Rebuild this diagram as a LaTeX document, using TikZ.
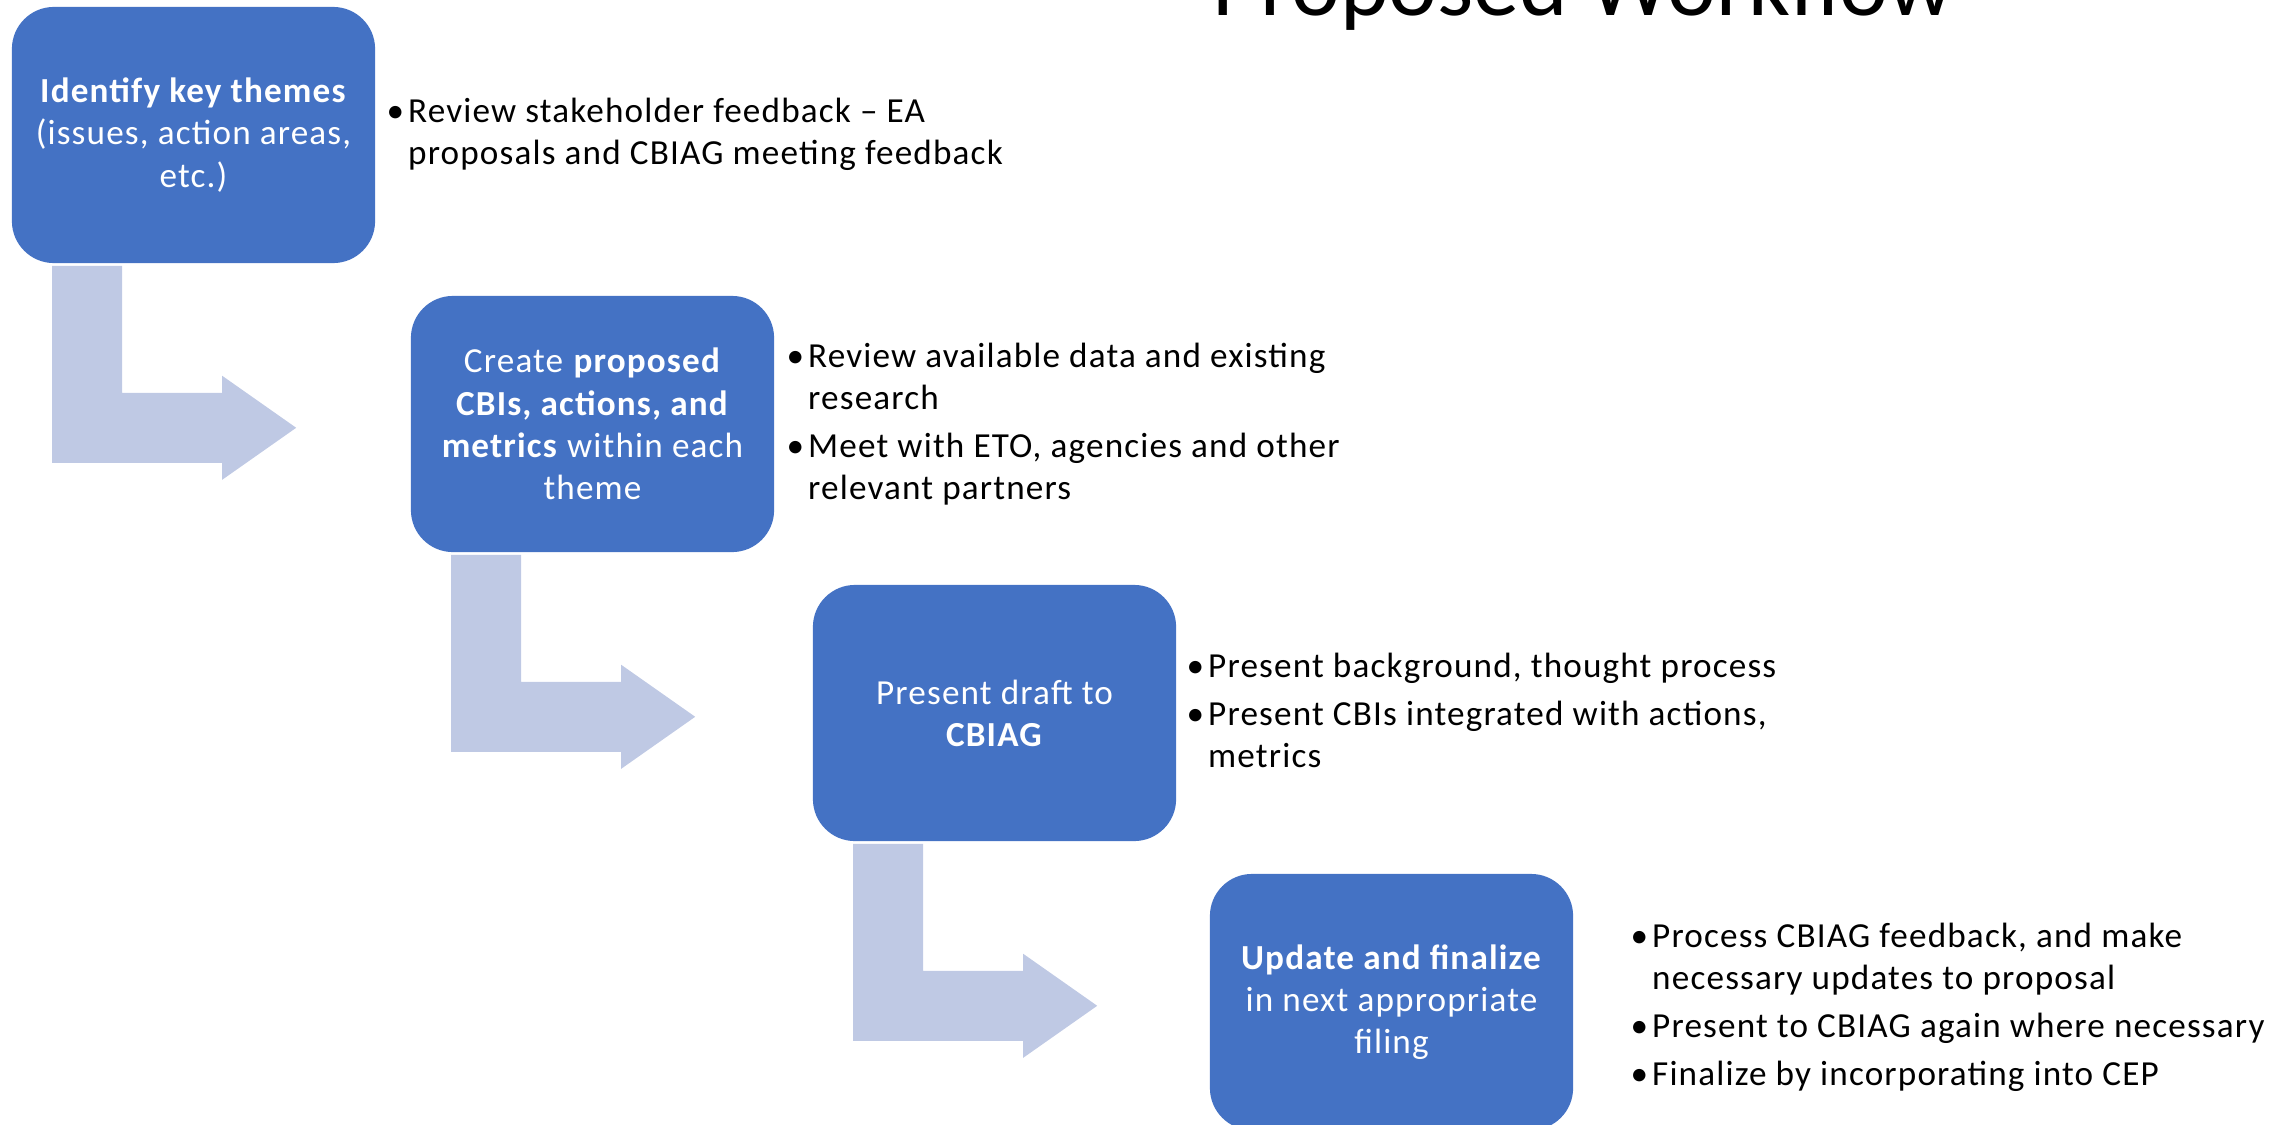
\documentclass[tikz,border=0pt]{standalone}
\usepackage{fontspec}
\setmainfont{Carlito}[LetterSpace=3.3]
\newfontfamily\titlefam{Carlito}
\usetikzlibrary{calc}

\definecolor{boxblue}{RGB}{68,114,196}
\definecolor{arrowgrey}{RGB}{191,201,228}

\newcommand{\boxfont}{\fontsize{10pt}{12pt}\selectfont}
\newcommand{\titlefont}{\titlefam\fontsize{26.3pt}{30pt}\selectfont}

\tikzset{
  stepbox/.style={fill=boxblue, rounded corners=0.42cm, minimum width=3.63cm,
    minimum height=2.56cm, inner sep=0pt, text=white, align=center, font=\boxfont},
  notes/.style={anchor=base west, inner sep=0pt, font=\boxfont},
  arrowfill/.style={fill=arrowgrey},
}

% bent arrow hanging below a step box
\newcommand{\bentarrow}[1]{%
  \fill[arrowfill] ($(#1.south west)+(41,2)$) -- ++(70,0) -- ++(0,127) -- ++(100,0)
    -- ++(0,-17) -- ++(74,52) -- ++(-74,52) -- ++(0,-17) -- ++(-170,0) -- cycle;%
}

\begin{document}
\begin{tikzpicture}[x=0.01cm,y=-0.01cm]
                \useasboundingbox (0,0) rectangle (2295,1124);
                \clip (0,0) rectangle (2295,1124);

                % Title, cut by the top edge
                \node [anchor=base west, inner sep=0pt, font=\titlefont] (title) at (1212,15) {Proposed Workflow};

                % Drawing step boxes
                \node [stepbox] (s1) at (193.5,135) {\textbf{Identify key themes}\\(issues, action areas,\\etc.)};
                \node [stepbox] (s2) at (592.5,424) {Create \textbf{proposed}\\\textbf{CBIs, actions, and}\\\textbf{metrics} within each\\theme};
                \node [stepbox] (s3) at (994.5,713) {Present draft to\\\textbf{CBIAG}};
                \node [stepbox] (s4) at (1391.5,1002) {\textbf{Update and finalize}\\in next appropriate\\filing};

                % Drawing bent arrows between the boxes
                \bentarrow{s1}
                \bentarrow{s2}
                \bentarrow{s3}

                % Bullet notes beside each box
                \node [notes] (n1) at (386,122) {\begin{tabular}[t]{@{}p{0.215cm}@{}l@{}}
                  \textbullet & Review stakeholder feedback -- EA\\
                              & proposals and CBIAG meeting feedback
                \end{tabular}};
                \node [notes] (n2) at (786,367) {\begin{tabular}[t]{@{}p{0.215cm}@{}l@{}}
                  \textbullet & Review available data and existing\\
                              & research\\[1.7pt]
                  \textbullet & Meet with ETO, agencies and other\\
                              & relevant partners
                \end{tabular}};
                \node [notes] (n3) at (1186,677) {\begin{tabular}[t]{@{}p{0.215cm}@{}l@{}}
                  \textbullet & Present background, thought process\\[1.7pt]
                  \textbullet & Present CBIs integrated with actions,\\
                              & metrics
                \end{tabular}};
                \node [notes] (n4) at (1630,947) {\begin{tabular}[t]{@{}p{0.215cm}@{}l@{}}
                  \textbullet & Process CBIAG feedback, and make\\
                              & necessary updates to proposal\\[1.7pt]
                  \textbullet & Present to CBIAG again where necessary\\[1.7pt]
                  \textbullet & Finalize by incorporating into CEP
                \end{tabular}};
\end{tikzpicture}
\end{document}
